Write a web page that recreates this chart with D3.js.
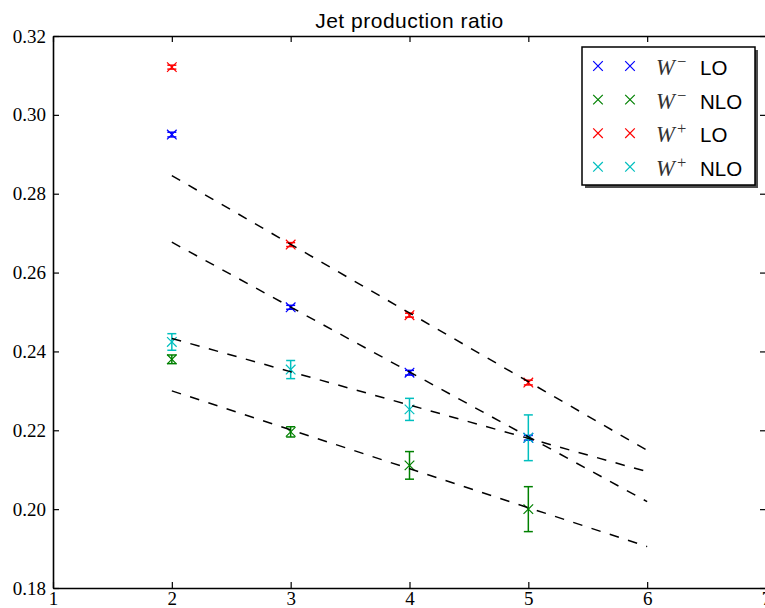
<!DOCTYPE html>
<html>
<head>
<meta charset="utf-8">
<script src="https://cdn.jsdelivr.net/npm/d3@7"></script>
<style>
  body { margin: 0; background: #fff; }
  svg { display: block; }
  .tick text { font-family: "Liberation Serif", "DejaVu Serif", serif; font-size: 19px; fill: #000; }
</style>
</head>
<body>
<script>
// jet multiplicity on x, ratio on y
var nJets = [2, 3, 4, 5];

var wmLO = [0.2950, 0.2512, 0.2346, 0.2181];
var wmLOerr = [0.0006, 0.0005, 0.0006, 0.0006];
var wmNLO = [0.2380, 0.2196, 0.2111, 0.2000];
var wmNLOerr = [0.0011, 0.0013, 0.0035, 0.0057];
var wpLO = [0.3121, 0.2671, 0.2492, 0.2321];
var wpLOerr = [0.0005, 0.0005, 0.0005, 0.0006];
var wpNLO = [0.2424, 0.2354, 0.2253, 0.2181];
var wpNLOerr = [0.0021, 0.0023, 0.0028, 0.0058];

// dashed fits, evaluated at x=2 and x=6
var fitX = [2, 6];
var fitWpLO = [0.2846, 0.2149];
var fitWmLO = [0.2677, 0.2019];
var fitWpNLO = [0.2433, 0.2095];
var fitWmNLO = [0.2300, 0.1905];

var xTicks = [1, 2, 3, 4, 5, 6, 7];
var yTicks = [0.18, 0.20, 0.22, 0.24, 0.26, 0.28, 0.30, 0.32];

var seriesNames = ["W-LO", "W-NLO", "W+LO", "W+NLO"];
var colors = ["#0000ff", "#008000", "#ff0000", "#00bfbf"];

var W = 765, H = 608;
var svg = d3.select("body").append("svg")
    .attr("width", W)
    .attr("height", H);

var xScale = d3.scaleLinear().domain([1, 7]).range([53, 766]);
var yScale = d3.scaleLinear().domain([0.18, 0.32]).range([588, 36]);

// title
svg.append("text")
    .attr("x", (53 + 766) / 2)
    .attr("y", 28)
    .attr("text-anchor", "middle")
    .style("font-family", "'Liberation Sans', Arial, sans-serif")
    .style("font-size", "21px")
    .style("letter-spacing", "0.5px")
    .text("Jet production ratio");

// axes, ticks pointing inward on all four sides
svg.append("g")
    .attr("transform", "translate(0,588)")
    .call(d3.axisBottom(xScale).tickValues(xTicks).tickFormat(d3.format("d"))
        .tickSizeInner(-6).tickSizeOuter(0).tickPadding(4));
svg.append("g")
    .attr("transform", "translate(0,36)")
    .call(d3.axisTop(xScale).tickValues(xTicks).tickFormat("")
        .tickSizeInner(-6).tickSizeOuter(0));
svg.append("g")
    .attr("transform", "translate(53,0)")
    .call(d3.axisLeft(yScale).tickValues(yTicks).tickFormat(d3.format(".2f"))
        .tickSizeInner(-6).tickSizeOuter(0).tickPadding(7));
svg.append("g")
    .attr("transform", "translate(766,0)")
    .call(d3.axisRight(yScale).tickValues(yTicks).tickFormat("")
        .tickSizeInner(-6).tickSizeOuter(0));

svg.selectAll(".domain").attr("stroke", "#000").attr("stroke-width", 1.6);
svg.selectAll(".tick line").attr("stroke", "#000").attr("stroke-width", 1.2);

var plot = svg.append("g");

// error bars + x markers
var allVals = [wmLO, wmNLO, wpLO, wpNLO];
var allErrs = [wmLOerr, wmNLOerr, wpLOerr, wpNLOerr];
var cap = 4.5, ms = 4.8;

function xMark(g, cx, cy, color) {
    g.append("path")
        .attr("d", "M" + (cx - ms) + "," + (cy - ms) + "L" + (cx + ms) + "," + (cy + ms)
            + "M" + (cx - ms) + "," + (cy + ms) + "L" + (cx + ms) + "," + (cy - ms))
        .attr("stroke", color)
        .attr("stroke-width", 1.2)
        .attr("fill", "none");
}

allVals.forEach(function(vals, i) {
    var errs = allErrs[i];
    var g = plot.append("g").attr("class", "series-" + i);
    nJets.forEach(function(n, j) {
        var cx = xScale(n);
        var y0 = yScale(vals[j] - errs[j]);
        var y1 = yScale(vals[j] + errs[j]);
        g.append("line").attr("x1", cx).attr("x2", cx).attr("y1", y0).attr("y2", y1)
            .attr("stroke", colors[i]).attr("stroke-width", 1.5);
        g.append("line").attr("x1", cx - cap).attr("x2", cx + cap).attr("y1", y0).attr("y2", y0)
            .attr("stroke", colors[i]).attr("stroke-width", 1.5);
        g.append("line").attr("x1", cx - cap).attr("x2", cx + cap).attr("y1", y1).attr("y2", y1)
            .attr("stroke", colors[i]).attr("stroke-width", 1.5);
        xMark(g, cx, yScale(vals[j]), colors[i]);
    });
});

// dashed fit lines
var fits = [fitWpLO, fitWmLO, fitWpNLO, fitWmNLO];
var fitLine = d3.line()
    .x(function(d) { return xScale(d[0]); })
    .y(function(d) { return yScale(d[1]); });
fits.forEach(function(f) {
    plot.append("path")
        .datum(d3.zip(fitX, f))
        .attr("d", fitLine)
        .attr("fill", "none")
        .attr("stroke", "#000")
        .attr("stroke-width", 1.5)
        .attr("stroke-dasharray", "9.6,9.6");
});

// legend
var legend = svg.append("g");
var lx = 582, ly = 47, lw = 173, lh = 138;
legend.append("rect")
    .attr("x", lx + 3).attr("y", ly + 3).attr("width", lw).attr("height", lh)
    .attr("fill", "#4d4d4d");
legend.append("rect")
    .attr("x", lx).attr("y", ly).attr("width", lw).attr("height", lh)
    .attr("fill", "#fff").attr("stroke", "#000").attr("stroke-width", 1.5);

var signs = ["\u2212", "\u2212", "+", "+"];
var orders = ["LO", "NLO", "LO", "NLO"];
seriesNames.forEach(function(name, i) {
    var ry = 66 + i * 33.6;
    xMark(legend, 598, ry, colors[i]);
    xMark(legend, 630, ry, colors[i]);
    legend.append("text")
        .attr("x", 656).attr("y", ry + 9)
        .style("font-family", "'Liberation Serif', 'DejaVu Serif', serif")
        .style("font-style", "italic")
        .style("font-size", "22.5px")
        .style("fill", "#333")
        .text("W");
    legend.append("text")
        .attr("x", 677).attr("y", ry + 1)
        .style("font-family", "'Liberation Serif', 'DejaVu Serif', serif")
        .style("font-size", "16.5px")
        .style("fill", "#333")
        .text(signs[i]);
    legend.append("text")
        .attr("x", 700).attr("y", ry + 9)
        .style("font-family", "'Liberation Sans', Arial, sans-serif")
        .style("font-size", "20.5px")
        .text(orders[i]);
});
</script>
</body>
</html>
